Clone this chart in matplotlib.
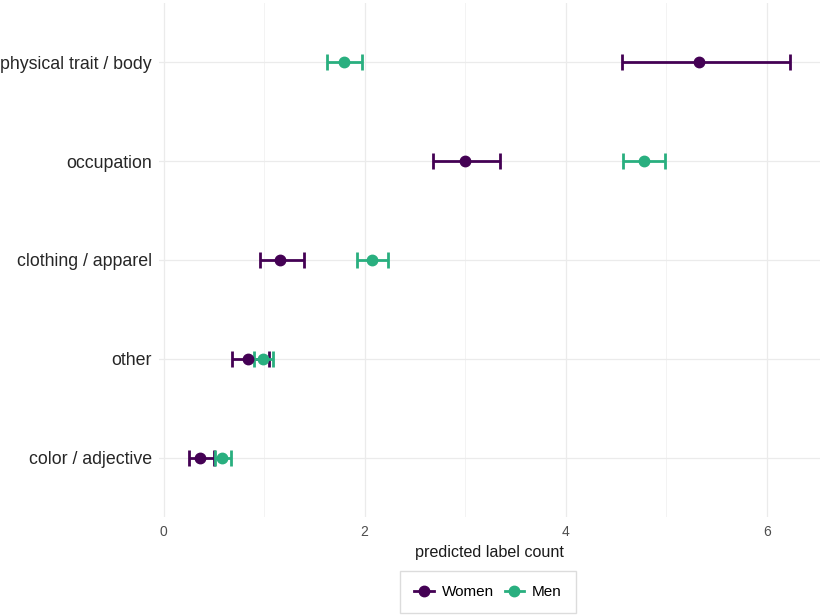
import numpy as np
import matplotlib.pyplot as plt
from matplotlib.lines import Line2D
from matplotlib.ticker import MultipleLocator

plt.rcParams['font.family'] = ['Liberation Sans', 'DejaVu Sans']

categories = ['physical trait / body', 'occupation', 'clothing / apparel', 'other', 'color / adjective']

# estimates with lower / upper bounds
women_est = [5.33, 3.00, 1.16, 0.84, 0.36]
women_lo = [4.56, 2.68, 0.96, 0.68, 0.25]
women_hi = [6.23, 3.35, 1.40, 1.05, 0.50]

men_est = [1.80, 4.78, 2.07, 0.99, 0.58]
men_lo = [1.63, 4.57, 1.92, 0.90, 0.51]
men_hi = [1.97, 4.99, 2.23, 1.09, 0.67]

women_col = '#440154'
men_col = '#29AF7F'

y = np.arange(len(categories))[::-1]

fig = plt.figure(figsize=(8.22, 6.16), dpi=100)
ax = fig.add_axes([159 / 822, 1 - 517 / 616, (820 - 159) / 822, (517 - 3) / 616])

# error bars first (both groups), then points, like ggplot layers
for est, lo, hi, col in [(women_est, women_lo, women_hi, women_col),
                         (men_est, men_lo, men_hi, men_col)]:
    est = np.array(est)
    err = np.vstack([est - np.array(lo), np.array(hi) - est])
    ax.errorbar(est, y, xerr=err, fmt='none', ecolor=col, elinewidth=2.0,
                capsize=5.5, capthick=2.0, zorder=3)
for est, col in [(women_est, women_col), (men_est, men_col)]:
    ax.plot(est, y, 'o', color=col, markersize=7.5, zorder=4)

ax.set_xlim(-0.045, 6.53)
ax.set_ylim(-0.6, len(categories) - 0.4)
ax.set_yticks(y)
ax.set_yticklabels(categories)
ax.xaxis.set_major_locator(MultipleLocator(2))
ax.xaxis.set_minor_locator(MultipleLocator(1))

ax.grid(which='major', color='#EBEBEB', linewidth=0.9)
ax.grid(which='minor', axis='x', color='#F3F3F3', linewidth=0.7)
ax.set_axisbelow(True)
for s in ax.spines.values():
    s.set_visible(False)
ax.tick_params(which='both', length=0)
ax.tick_params(axis='y', labelsize=12.8, labelcolor='#262626', pad=5)
ax.tick_params(axis='x', labelsize=10, labelcolor='#4D4D4D', pad=6)
ax.set_xlabel('predicted label count', fontsize=11.6, color='#1A1A1A', labelpad=4)

handles = [Line2D([], [], color=women_col, marker='o', markersize=7.5, linewidth=2.0),
           Line2D([], [], color=men_col, marker='o', markersize=7.5, linewidth=2.0)]
leg = fig.legend(handles, ['Women', 'Men'], loc='center', ncol=2,
                 bbox_to_anchor=(488 / 822, 1 - 592 / 616), fontsize=11,
                 frameon=True, fancybox=False, edgecolor='#D4D4D4',
                 handlelength=1.3, handletextpad=0.5, columnspacing=0.7,
                 borderpad=0.9)
leg.get_frame().set_linewidth(1.0)

fig.savefig('out.png', dpi=100)
